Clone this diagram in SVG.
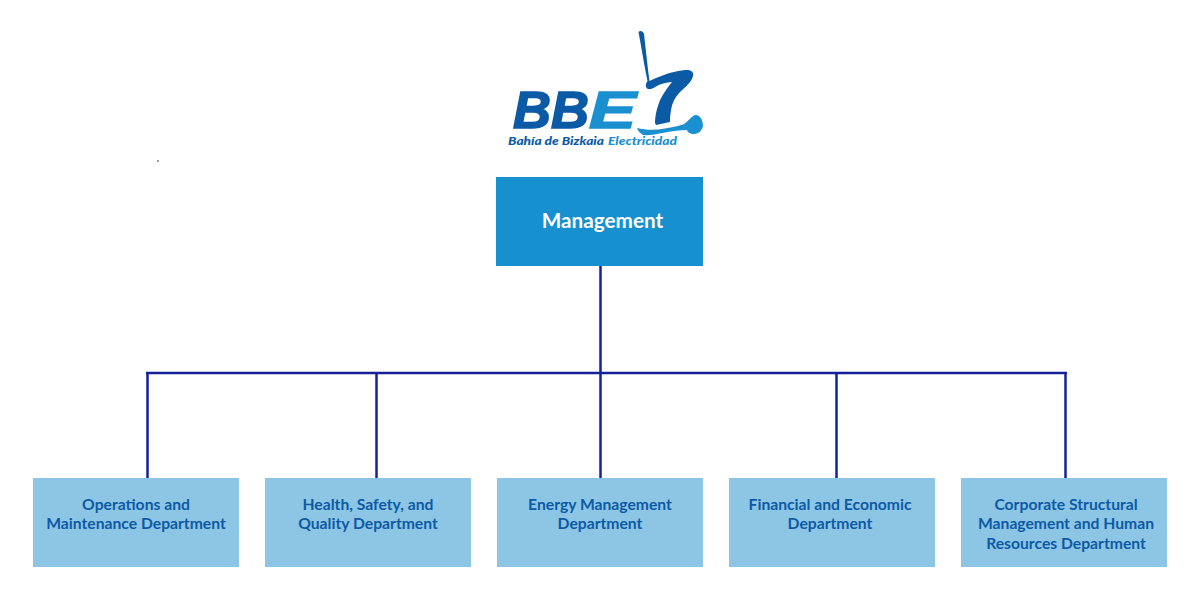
<svg xmlns="http://www.w3.org/2000/svg" width="1200" height="600" viewBox="0 0 1200 600">
<style>
.box{fill:#8cc6e4}
.mgmt{fill:#1690cf}
.lbl{font-family:Lato,"Open Sans",sans-serif;font-weight:700;font-size:15.700px;fill:#0c5aa6;text-anchor:middle}
.ttl{font-family:Lato,"Open Sans",sans-serif;font-weight:700;font-size:20.700px;fill:#fff;text-anchor:middle}
.conn{stroke:#14229a;stroke-width:2.500;fill:none}
.dark{fill:#0b5aa5}
.light{fill:#1a90d0}
.logo{font-family:"Liberation Sans",Arial,sans-serif;font-weight:700;font-style:italic}
.big{font-size:52px;stroke-width:1.600}
.big.dark{stroke:#0b5aa5}
.big.light{stroke:#1a90d0}
.small{font-family:Lato,"Liberation Sans",sans-serif;font-weight:900;font-size:11.500px}
</style>
<rect width="1200" height="600" fill="#fff"/>
<g id="connectors" class="conn">
<path d="M600.500 266V373"/>
<path d="M146 373H1067"/>
<path d="M147.500 373V478"/>
<path d="M376.500 373V478"/>
<path d="M600.500 373V478"/>
<path d="M836.500 373V478"/>
<path d="M1065.500 373V478"/>
</g>
<g id="logo">
<path class="dark" d="M638.500 32C640 30 643 31 644 34C645.500 47 647.500 66 649.500 81C658 77 668 73 674 72C680 70.500 684 70 688 70C692 70.500 694 73 693 76C692 81 686 87 680 92C675 97 672 103 671 110C670 116 670 120 670 122L656 125L655 123C655 116 657 108 659 103C661 97 667 88 672 82C666 82.500 660 84 656 86.500C652 89 649 90 647 88.500C645 86 646 83 647.500 81C644 64 641 45 638.500 32Z"/>
<path class="light" d="M637 128C645 130 655 130.500 665 128.500C672 127 680 126 684 124C689 121 692 115 696 115C700 115 703 120 703 126C702 131 698 134 694 134C690 134 687.500 132 687 130C680 130 673 131 665 132.500C656 134.500 648 135.500 643 135C640 133 638 131 637 128Z"/>
<text class="logo big dark" x="513" y="128" textLength="76" lengthAdjust="spacingAndGlyphs">BB</text>
<text class="logo big light" x="589" y="128" textLength="47" lengthAdjust="spacingAndGlyphs">E</text>
<text class="logo small dark" font-style="italic" x="508" y="145" textLength="96" lengthAdjust="spacingAndGlyphs">Bahía de Bizkaia</text>
<text class="logo small light" font-style="italic" x="608" y="145" textLength="69" lengthAdjust="spacingAndGlyphs">Electricidad</text>
</g>
<circle id="dot" cx="158" cy="161" r="0.800" fill="#222"/>
<g id="management">
<rect class="mgmt" x="496" y="177" width="207" height="89"/>
<text class="ttl" x="602.500" y="228">Management</text>
</g>
<g id="operations">
<rect class="box" x="33" y="478" width="206" height="89"/>
<text class="lbl" x="136" y="510">Operations and</text>
<text class="lbl" x="136" y="529">Maintenance Department</text>
</g>
<g id="health">
<rect class="box" x="265" y="478" width="206" height="89"/>
<text class="lbl" x="368" y="510">Health, Safety, and</text>
<text class="lbl" x="368" y="529">Quality Department</text>
</g>
<g id="energy">
<rect class="box" x="497" y="478" width="206" height="89"/>
<text class="lbl" x="600" y="510">Energy Management</text>
<text class="lbl" x="600" y="529">Department</text>
</g>
<g id="financial">
<rect class="box" x="729" y="478" width="206" height="89"/>
<text class="lbl" x="830" y="510">Financial and Economic</text>
<text class="lbl" x="830" y="529">Department</text>
</g>
<g id="corporate">
<rect class="box" x="961" y="478" width="206" height="89"/>
<text class="lbl" x="1066" y="510">Corporate Structural</text>
<text class="lbl" x="1066" y="529">Management and Human</text>
<text class="lbl" x="1066" y="549">Resources Department</text>
</g>
</svg>
